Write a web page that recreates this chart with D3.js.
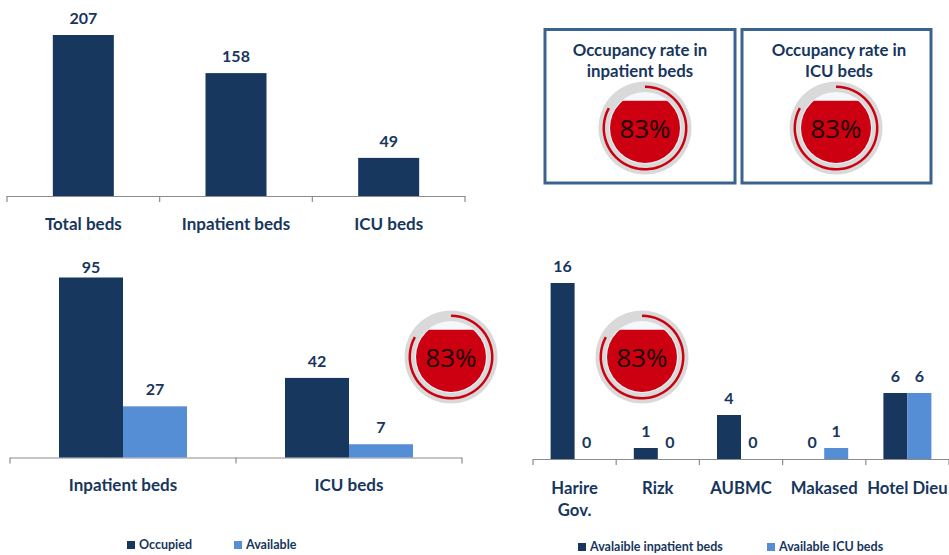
<!DOCTYPE html>
<html>
<head>
<meta charset="utf-8">
<script src="https://cdn.jsdelivr.net/npm/d3@7"></script>
<style>
html,body{margin:0;padding:0;background:#fff;}
text{font-family:Lato,"Open Sans",sans-serif;font-weight:700;fill:#17365d;}
</style>
</head>
<body>
<svg id="vis" width="949" height="555"></svg>
<script>
var bedCats = ['Total beds','Inpatient beds','ICU beds'];
var bedVals = [207,158,49];

var typeCats = ['Inpatient beds','ICU beds'];
var occupied = [95,42];
var available = [27,7];

var hospCats = [['Harire','Gov.'],['Rizk'],['AUBMC'],['Makased'],['Hotel Dieu']];
var availInpatient = [16,1,4,0,6];
var availIcu = [0,0,0,1,6];

var boxTitles = [['Occupancy rate in','inpatient beds'],['Occupancy rate in','ICU beds']];
var gaugeValue = 83;

var DARK = '#17375e', LIGHT = '#558ed5', AXIS = '#8c8c8c';

var svg = d3.select('#vis');

function barChart(o){
	var g = svg.append('g');
	var x = d3.scaleBand().domain(d3.range(o.cats.length)).range([o.x0,o.x1]);
	var y = d3.scaleLinear().domain([0,o.max]).range([o.base,o.top]);
	var n = o.series.length;
	var bw = o.barW;

	// axis line and the ticks between categories
	g.append('line').attr('x1',o.x0).attr('x2',o.x1).attr('y1',o.base+.5).attr('y2',o.base+.5)
		.attr('stroke',AXIS).attr('stroke-width',1.2);
	d3.range(o.cats.length+1).forEach(function(i){
		var tx = i === o.cats.length ? o.x1 : x(i);
		g.append('line').attr('x1',tx).attr('x2',tx).attr('y1',o.base).attr('y2',o.base+6)
			.attr('stroke',AXIS).attr('stroke-width',1.2);
	});

	o.series.forEach(function(s,si){
		var sg = g.append('g');
		sg.selectAll('rect').data(s.values).enter().append('rect')
			.attr('x',function(d,i){ return x(i)+x.bandwidth()/2 -n*bw/2 +si*bw; })
			.attr('y',function(d){ return y(d); })
			.attr('width',bw)
			.attr('height',function(d){ return o.base-y(d); })
			.attr('fill',s.color);
		sg.selectAll('text').data(s.values).enter().append('text')
			.attr('x',function(d,i){ return x(i)+x.bandwidth()/2 -n*bw/2 +si*bw +bw/2; })
			.attr('y',function(d){ return Math.max(y(d)-11,o.minLabelY); })
			.attr('text-anchor','middle')
			.style('font-size',o.valSize+'px')
			.text(function(d){ return d; });
	});

	o.cats.forEach(function(c,i){
		[].concat(c).forEach(function(l,li){
			g.append('text')
				.attr('x',x(i)+x.bandwidth()/2)
				.attr('y',o.labelY+li*o.labelStep)
				.attr('text-anchor','middle')
				.style('font-size',o.catSize+'px')
				.text(l);
		});
	});
}

function legend(items,y){
	items.forEach(function(it){
		svg.append('rect').attr('x',it.x).attr('y',y-4).attr('width',8).attr('height',8).attr('fill',it.color);
		svg.append('text').attr('x',it.x+12).attr('y',y+4)
			.style('font-size','12.5px').text(it.label);
	});
}

var gaugeId = 0;
function gauge(cx,cy,val){
	var g = svg.append('g').attr('transform','translate('+cx+','+cy+')');
	var r = 35;
	var level = d3.scaleLinear().domain([0,100]).range([r,-r-5]);
	var angle = d3.scaleLinear().domain([0,100]).range([0,2*Math.PI]);
	var id = 'clip'+(gaugeId++);

	g.append('path')
		.attr('d',d3.arc().innerRadius(35).outerRadius(46.5).startAngle(0).endAngle(2*Math.PI)())
		.attr('fill','#d9d9d9');
	g.append('circle').attr('r',r+1).attr('fill','#f4f7fb');
	g.append('clipPath').attr('id',id).append('rect')
		.attr('x',-r-1).attr('y',level(val)).attr('width',2*r+2).attr('height',2*r+2);
	g.append('circle').attr('r',r).attr('fill','#cc0010').attr('clip-path','url(#'+id+')');
	g.append('path')
		.attr('d',d3.arc().innerRadius(40).outerRadius(42.5).startAngle(0).endAngle(angle(val))())
		.attr('fill','#cc0010');
	g.append('text').attr('y',9.5).attr('text-anchor','middle')
		.style('font-family','"Open Sans",sans-serif').style('font-weight',400).style('fill','#1a0000')
		.style('font-size','26px').text(val+'%');
}

barChart({cats:bedCats,series:[{values:bedVals,color:DARK}],x0:7,x1:465,base:196,top:35,max:207,minLabelY:23,
	barW:61,valSize:16,catSize:17,labelY:230,labelStep:20});
barChart({cats:typeCats,series:[{values:occupied,color:DARK},{values:available,color:LIGHT}],x0:10,x1:462,base:457.5,top:277.5,max:95,minLabelY:273,
	barW:64,valSize:16,catSize:17,labelY:491,labelStep:20});
barChart({cats:hospCats,series:[{values:availInpatient,color:DARK},{values:availIcu,color:LIGHT}],x0:533,x1:949,base:459,top:283,max:16,minLabelY:0,
	barW:24,valSize:16,catSize:16.7,labelY:494,labelStep:22});

legend([{x:127,color:DARK,label:'Occupied'},{x:234,color:LIGHT,label:'Available'}],545);
legend([{x:578,color:DARK,label:'Avalaible inpatient  beds'},{x:767,color:LIGHT,label:'Available ICU beds'}],547);

// boxes around the two top gauges
[[545,190,640],[742,189,839]].forEach(function(b,i){
	svg.append('rect').attr('x',b[0]).attr('y',29.5).attr('width',b[1]).attr('height',153.5)
		.attr('fill','#fff').attr('stroke','#3b6390').attr('stroke-width',3);
	boxTitles[i].forEach(function(t,ti){
		svg.append('text').attr('x',b[2]).attr('y',56+ti*21)
			.attr('text-anchor','middle').style('font-size','16.8px').text(t);
	});
});

gauge(645,128,gaugeValue);
gauge(836,128,gaugeValue);
gauge(451,357,gaugeValue);
gauge(642,357,gaugeValue);
</script>
</body>
</html>
